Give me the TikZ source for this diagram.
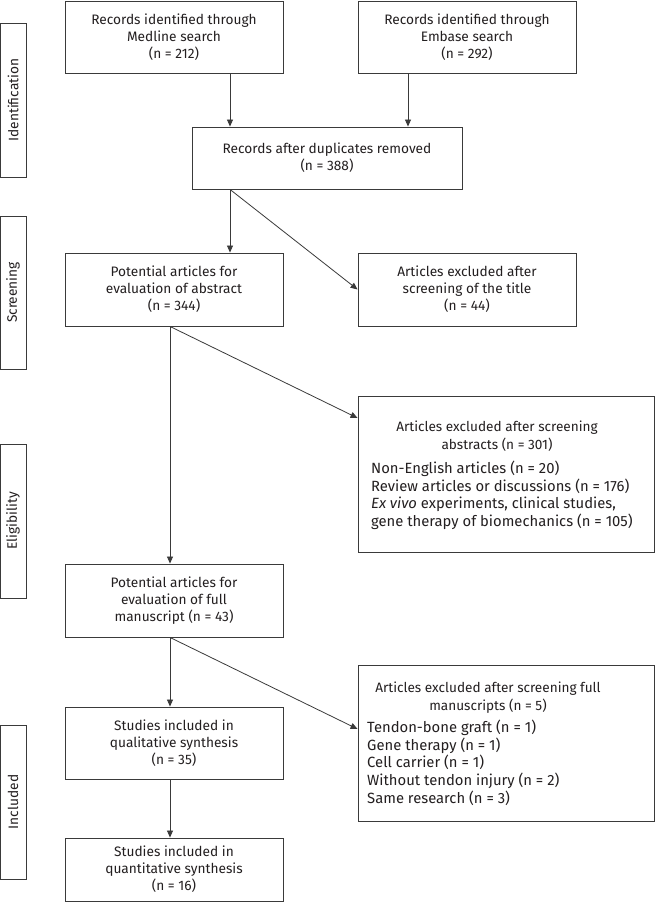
\documentclass[tikz,border=0pt]{standalone}
\usepackage{fontspec}
\setmainfont{Fira Sans}
\usetikzlibrary{arrows.meta}
\definecolor{ln}{HTML}{3A3A3A}
\definecolor{tx}{HTML}{231F20}
\begin{document}
\begin{tikzpicture}[x=1pt,y=-1pt,
  font=\fontsize{13.7}{17}\selectfont, text=tx,
  box/.style={draw=ln, line width=0.9pt, rectangle, inner sep=0pt, align=center},
  mainbox/.style={box, minimum width=218pt, minimum height=72pt},
  side/.style={draw=ln, line width=0.9pt, minimum width=26pt, inner sep=0pt},
  sidelabel/.style={rotate=90, inner sep=0pt},
  arr/.style={draw=ln, line width=0.8pt, -{Triangle[length=7pt,width=6pt]}},
  txt/.style={inner sep=0pt},
  titletxt/.style={txt, align=center, font=\fontsize{13.6}{17.8}\selectfont},
  listtxt/.style={txt, align=left, anchor=north west, font=\fontsize{14.8}{17.6}\selectfont}]
\useasboundingbox (0,0) rectangle (655,911);
\fill[white] (0,0) rectangle (655,911);

% side phase boxes
\node[side, minimum height=154pt] (sid) at (13,100) {};
\node[sidelabel] (sidl) at (sid.center) {Identification};
\node[side, minimum height=153pt] (sscr) at (13,292.5) {};
\node[sidelabel] (sscrl) at (sscr.center) {Screening};
\node[side, minimum height=154pt] (selig) at (13,521) {};
\node[sidelabel] (seligl) at (selig.center) {Eligibility};
\node[side, minimum height=154pt] (sinc) at (13,802) {};
\node[sidelabel] (sincl) at (sinc.center) {Included};

% main boxes
\node[mainbox, minimum height=72pt] (medline) at (174,37) {Records identified through\\Medline search\\(n = 212)};
\node[mainbox, minimum height=72pt] (embase) at (467,37) {Records identified through\\Embase search\\(n = 292)};
\node[box, minimum width=270pt, minimum height=62pt] (dup) at (327,158) {Records after duplicates removed\\(n = 388)};
\node[mainbox, minimum height=73pt] (abs) at (174,289.5) {Potential articles for\\evaluation of abstract\\(n = 344)};
\node[mainbox, minimum height=73pt] (title) at (467,289.5) {Articles excluded after\\screening of the title\\(n = 44)};
\node[box, minimum width=296pt, minimum height=156pt] (absx) at (506,474) {};
\node[titletxt] (absxt) at (497,436) {Articles excluded after screening\\abstracts (n = 301)};
\node[listtxt] (absxl) at (371,461) {Non-English articles (n = 20)\\Review articles or discussions (n = 176)\\\textit{Ex vivo} experiments, clinical studies,\\gene therapy of biomechanics (n = 105)};
\node[mainbox, minimum height=73pt] (full) at (174,600.5) {Potential articles for\\evaluation of full\\manuscript (n = 43)};
\node[mainbox, minimum height=72pt] (qual) at (174,743) {Studies included in\\qualitative synthesis\\(n = 35)};
\node[mainbox, minimum height=63pt] (quant) at (174,869.5) {Studies included in\\quantitative synthesis\\(n = 16)};
\node[box, minimum width=296pt, minimum height=156pt] (manx) at (506,743) {};
\node[titletxt] (manxt) at (488,697.5) {Articles excluded after screening full\\manuscripts (n = 5)};
\node[listtxt] (manxl) at (367,720) {Tendon-bone graft (n = 1)\\Gene therapy (n = 1)\\Cell carrier (n = 1)\\Without tendon injury (n = 2)\\Same research (n = 3)};

% helper coordinates
\coordinate (xa) at (230,0);
\coordinate (xb) at (408,0);
\coordinate (xc) at (170,0);
\coordinate (ya) at (0,418);
\coordinate (yb) at (0,729);

% connectors
\draw[arr] (medline.south -| xa) -- (dup.north -| xa);
\draw[arr] (embase.south -| xb) -- (dup.north -| xb);
\draw[arr] (dup.south -| xa) -- (abs.north -| xa);
\draw[arr] (dup.south -| xa) -- (title.west);
\draw[arr] (abs.south -| xc) -- (full.north -| xc);
\draw[arr] (abs.south -| xc) -- (absx.west |- ya);
\draw[arr] (full.south -| xc) -- (qual.north -| xc);
\draw[arr] (full.south -| xc) -- (manx.west |- yb);
\draw[arr] (qual.south -| xc) -- (quant.north -| xc);
\end{tikzpicture}
\end{document}
